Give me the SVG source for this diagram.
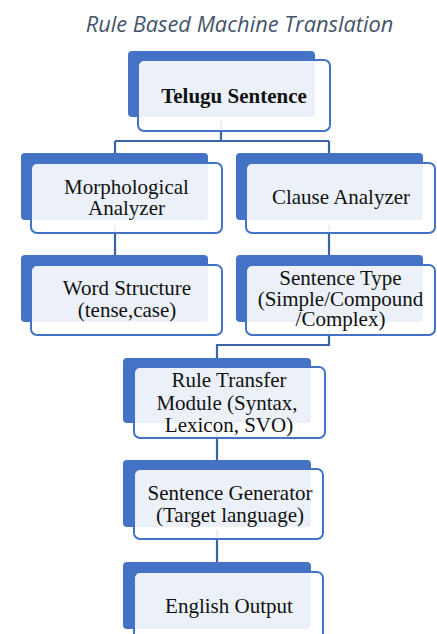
<svg xmlns="http://www.w3.org/2000/svg" width="437" height="634" viewBox="0 0 437 634">
<style>
.back{fill:#4472C4}
.front{fill:#ffffff;fill-opacity:0.9;stroke:#4472C4;stroke-width:2}
.conn{fill:none;stroke:#3B63A8;stroke-width:2.2}
.t{font-family:"Liberation Serif","Times New Roman",serif;font-size:21px;fill:#111111;text-anchor:middle}
.title{font-family:"Open Sans","Noto Sans",sans-serif;font-style:italic;font-size:21.8px;fill:#44546A;text-anchor:middle}
</style>
<rect width="437" height="634" fill="#ffffff"/>
<text class="title" x="239.5" y="32">Rule Based Machine Translation</text>
<g id="connectors">
<path class="conn" d="M221 120 V141 M115 141 H329 M115 141 V155 M329 141 V155"/>
<path class="conn" d="M115 225 V257"/>
<path class="conn" d="M329 225 V257"/>
<path class="conn" d="M329 330 V345 H217 V360"/>
<path class="conn" d="M217 430 V462"/>
<path class="conn" d="M217 530 V564"/>
</g>
<g id="telugu">
<rect class="back" x="128" y="51" width="187" height="66" rx="4"/>
<rect class="front" x="138" y="60" width="192" height="71" rx="6"/>
<text class="t" x="234" y="103" font-weight="bold">Telugu Sentence</text>
</g>
<g id="morph">
<rect class="back" x="21" y="153" width="187" height="67" rx="4"/>
<rect class="front" x="31" y="163" width="191" height="70" rx="6"/>
<text class="t" x="126.5" y="194">Morphological</text>
<text class="t" x="126.5" y="215">Analyzer</text>
</g>
<g id="clause">
<rect class="back" x="236" y="153" width="187" height="67" rx="4"/>
<rect class="front" x="246" y="163" width="189" height="70" rx="6"/>
<text class="t" x="341" y="204">Clause Analyzer</text>
</g>
<g id="word">
<rect class="back" x="21" y="255" width="187" height="67" rx="4"/>
<rect class="front" x="31" y="265" width="191" height="70" rx="6"/>
<text class="t" x="127" y="295">Word Structure</text>
<text class="t" x="127" y="316.5">(tense,case)</text>
</g>
<g id="stype">
<rect class="back" x="236" y="255" width="187" height="67" rx="4"/>
<rect class="front" x="246" y="265" width="189" height="70" rx="6"/>
<text class="t" x="340.5" y="285">Sentence Type</text>
<text class="t" x="340.5" y="305.5">(Simple/Compound</text>
<text class="t" x="340.5" y="326">/Complex)</text>
</g>
<g id="rule">
<rect class="back" x="123" y="358" width="188" height="65" rx="4"/>
<rect class="front" x="134" y="367" width="191" height="71" rx="6"/>
<text class="t" x="229" y="386.5">Rule Transfer</text>
<text class="t" x="227" y="409.5">Module (Syntax,</text>
<text class="t" x="229" y="431.5">Lexicon, SVO)</text>
</g>
<g id="gen">
<rect class="back" x="123" y="460" width="188" height="67" rx="4"/>
<rect class="front" x="134" y="469" width="189" height="70" rx="6"/>
<text class="t" x="230" y="500">Sentence Generator</text>
<text class="t" x="230" y="521.5">(Target language)</text>
</g>
<g id="english">
<rect class="back" x="123" y="562" width="188" height="67" rx="4"/>
<rect class="front" x="134" y="572" width="189" height="70" rx="6"/>
<text class="t" x="229" y="613">English Output</text>
</g>
</svg>
